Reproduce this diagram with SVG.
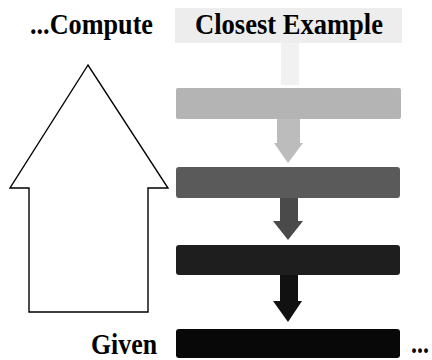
<svg xmlns="http://www.w3.org/2000/svg" width="432" height="360" viewBox="0 0 432 360">
<style>
.lbl{font-family:"Liberation Serif","Times New Roman",serif;font-weight:bold;font-size:29px;fill:#000}
.bar{stroke:none}
</style>
<rect width="432" height="360" fill="#fff"/>
<g id="compute-label"><text class="lbl" x="30" y="34" textLength="123" lengthAdjust="spacingAndGlyphs">...Compute</text></g>
<g id="closest-example">
<rect x="175" y="8" width="227" height="35" fill="#ededed"/>
<rect x="281" y="43" width="18" height="42" fill="#f1f1f1"/>
<text class="lbl" x="195" y="34" textLength="188" lengthAdjust="spacingAndGlyphs">Closest Example</text>
</g>
<g id="big-arrow"><path d="M88,65 L10,188 L29,188 L29,312 L148,312 L148,188 L168,188 Z" fill="#fff" stroke="#000" stroke-width="1.4" stroke-linejoin="miter"/></g>
<g id="bar1"><rect class="bar" x="176" y="88" width="225" height="31" rx="2" fill="#b4b4b4"/></g>
<g id="bar2"><rect class="bar" x="176" y="167" width="224" height="31" rx="3" fill="#5a5a5a"/></g>
<g id="bar3"><rect class="bar" x="176" y="245" width="224" height="30" rx="3" fill="#1e1e1e"/></g>
<g id="bar4"><rect class="bar" x="176" y="329" width="224" height="29" rx="3" fill="#080808"/></g>
<g id="given-label"><text class="lbl" x="91" y="354" textLength="66" lengthAdjust="spacingAndGlyphs">Given</text></g>
<g id="ellipsis"><text class="lbl" x="411" y="353" font-size="26" textLength="18" lengthAdjust="spacingAndGlyphs">...</text></g>
<g id="connectors">
<path d="M277,119 L300,119 L300,143 L303,143 L288,163 L274,143 L277,143 Z" fill="#bcbcbc"/>
<path d="M280,198 L298,198 L298,221 L303,221 L288,240 L273,221 L280,221 Z" fill="#4a4a4a"/>
<path d="M280,275 L298,275 L298,301 L302,301 L288,322 L273,301 L280,301 Z" fill="#111"/>
</g>
</svg>
